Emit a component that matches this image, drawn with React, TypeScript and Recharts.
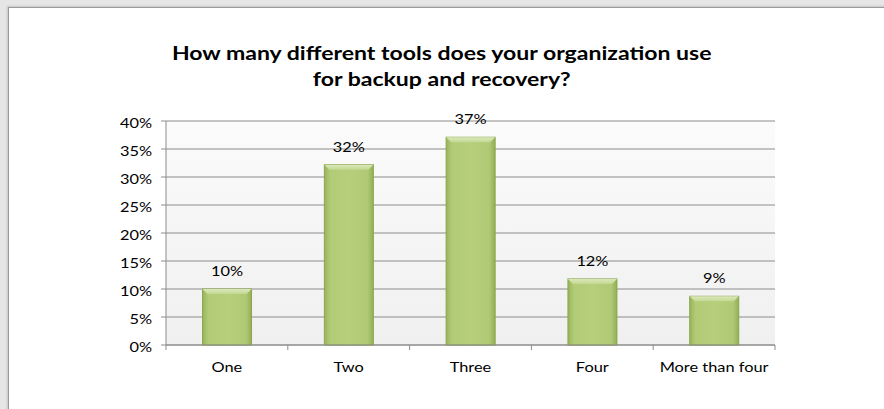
import React from "react";
import { BarChart, Bar, XAxis, YAxis, CartesianGrid, LabelList } from "recharts";

const categories = ["One", "Two", "Three", "Four", "More than four"];
const shares = [10, 32.2, 37.1, 11.8, 8.7];
const yTicks = [0, 5, 10, 15, 20, 25, 30, 35, 40];
const titleLines = ["How many different tools does your organization use", "for backup and recovery?"];

const data = categories.map((c, i) => ({ name: c, value: shares[i] }));

const FONT = "Lato, 'Open Sans', sans-serif";
const SX = 1.26;

const stretch = (x: number, y: number) => `translate(${x},${y}) scale(${SX},1) translate(${-x},${-y})`;

const BarShape = (props: any) => {
  const { x, y, width, height } = props;
  if (!height || height <= 0) return null;
  const b = Math.min(5, height / 3);
  return (
    <g>
      <rect x={x} y={y} width={width} height={height} fill="url(#barGrad)" />
      <rect x={x} y={y} width={width} height={height} fill="none" stroke="#8aa64e" strokeWidth={1} />
      <polygon
        points={`${x},${y} ${x + width},${y} ${x + width - b},${y + b} ${x + b},${y + b}`}
        fill="url(#topGrad)"
      />
    </g>
  );
};

const XTick = (props: any) => {
  const { x, y, payload, index } = props;
  const off = payload && payload.offset != null ? payload.offset : 0;
  const n = categories.length;
  const ty = y + 19;
  return (
    <g>
      <line x1={x - off} x2={x - off} y1={y - 8} y2={y - 3} stroke="#8c8c8c" />
      {index === n - 1 && <line x1={x + off} x2={x + off} y1={y - 8} y2={y - 3} stroke="#8c8c8c" />}
      <text x={x} y={ty} textAnchor="middle" fontSize={13} fill="#000" fontFamily={FONT} transform={stretch(x, ty)}>
        {payload.value}
      </text>
    </g>
  );
};

const YTick = (props: any) => {
  const { x, y, payload } = props;
  const tx = x - 7;
  return (
    <text x={tx} y={y} dy={7} textAnchor="end" fontSize={13} fill="#000" fontFamily={FONT} transform={stretch(tx, y)}>
      {`${payload.value}%`}
    </text>
  );
};

const ValueLabel = (props: any) => {
  const { x, y, width, value } = props;
  const cx = x + width / 2;
  const ty = y - 13;
  return (
    <text x={cx} y={ty} textAnchor="middle" fontSize={13} fill="#000" fontFamily={FONT} transform={stretch(cx, ty)}>
      {`${Math.round(Number(value))}%`}
    </text>
  );
};

export default function App() {
  return (
    <div style={{ position: "fixed", left: 0, top: 0, width: 884, height: 409, background: "#e6e6e6", overflow: "hidden" }}>
      <div
        style={{
          position: "absolute",
          left: 8,
          top: 7,
          width: 900,
          height: 420,
          background: "#fff",
          borderLeft: "1px solid #9a9a9a",
          borderTop: "1px solid #9a9a9a",
          boxShadow: "-1px -1px 2px rgba(0,0,0,0.15)",
        }}
      />
      <div
        style={{
          position: "absolute",
          left: 0,
          top: 40,
          width: 884,
          textAlign: "center",
          fontFamily: FONT,
          fontWeight: 700,
          fontSize: 18,
          lineHeight: "26px",
          color: "#000",
        }}
      >
        {titleLines.map((t) => (
          <div key={t} style={{ transform: "scaleX(1.28)", transformOrigin: "443px 50%" }}>
            {t}
          </div>
        ))}
      </div>
      <div style={{ position: "absolute", left: 0, top: 0 }}>
        <BarChart
          width={884}
          height={409}
          data={data}
          margin={{ top: 121, right: 109, bottom: 34, left: 106 }}
          barCategoryGap="30%"
        >
          <defs>
            <linearGradient id="barGrad" x1="0" y1="0" x2="1" y2="0">
              <stop offset="0%" stopColor="#98b55a" />
              <stop offset="12%" stopColor="#b2cb77" />
              <stop offset="50%" stopColor="#b7cf7c" />
              <stop offset="88%" stopColor="#b0c975" />
              <stop offset="100%" stopColor="#93b054" />
            </linearGradient>
            <linearGradient id="topGrad" x1="0" y1="0" x2="0" y2="1">
              <stop offset="0%" stopColor="#dbe8bc" />
              <stop offset="100%" stopColor="#c3d892" />
            </linearGradient>
            <linearGradient id="plotBg" x1="0" y1="0" x2="0" y2="1">
              <stop offset="0%" stopColor="#fbfbfb" />
              <stop offset="100%" stopColor="#f0f0f0" />
            </linearGradient>
          </defs>
          <CartesianGrid vertical={false} stroke="#8c8c8c" fill="url(#plotBg)" />
          <XAxis
            dataKey="name"
            axisLine={{ stroke: "#8c8c8c" }}
            tickLine={false}
            tick={<XTick />}
            interval={0}
            height={30}
          />
          <YAxis
            domain={[0, 40]}
            ticks={yTicks}
            interval={0}
            width={60}
            axisLine={{ stroke: "#8c8c8c" }}
            tickLine={{ stroke: "#8c8c8c" }}
            tickSize={5}
            tick={<YTick />}
          />
          <Bar dataKey="value" isAnimationActive={false} shape={<BarShape />}>
            <LabelList dataKey="value" content={<ValueLabel />} />
          </Bar>
        </BarChart>
      </div>
    </div>
  );
}
